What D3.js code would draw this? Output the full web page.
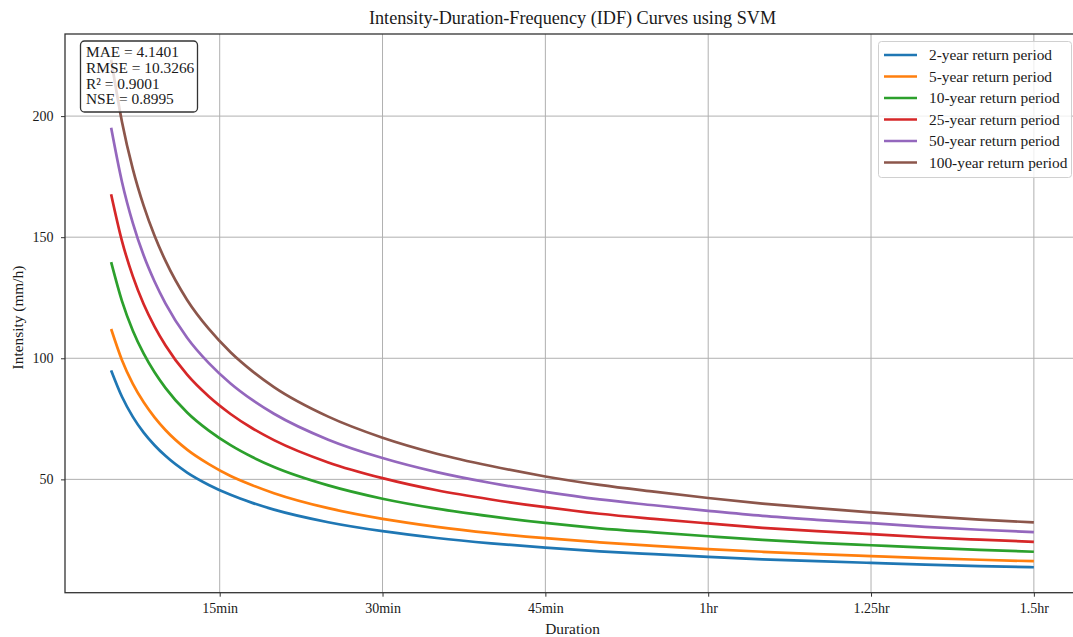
<!DOCTYPE html>
<html>
<head>
<meta charset="utf-8">
<script src="https://cdn.jsdelivr.net/npm/d3@7"></script>
<style>
  body { margin: 0; background: #fff; }
  svg { font-family: 'Liberation Serif', 'Times New Roman', serif; }
</style>
</head>
<body>
<div class="chart"></div>
<script>
// durations in minutes
const durations = [5, 6, 7, 8, 9, 10, 12, 14, 16, 18, 20, 25, 30, 35, 40, 45, 50, 55, 60, 65, 70, 75, 80, 85, 90];

const rp2 = [95.0, 84.1, 75.8, 69.3, 64.1, 59.7, 52.8, 47.7, 43.6, 40.3, 37.5, 32.3, 28.6, 25.8, 23.6, 21.8, 20.3, 19.1, 18.0, 17.0, 16.2, 15.5, 14.8, 14.2, 13.7];
const rp5 = [112.1, 99.2, 89.4, 81.8, 75.6, 70.4, 62.3, 56.3, 51.4, 47.6, 44.3, 38.1, 33.7, 30.4, 27.8, 25.7, 24.0, 22.5, 21.2, 20.1, 19.1, 18.3, 17.5, 16.8, 16.2];
const rp10 = [139.7, 123.6, 111.4, 101.9, 94.2, 87.8, 77.6, 70.1, 64.1, 59.2, 55.1, 47.5, 42.0, 37.9, 34.7, 32.0, 29.8, 28.1, 26.5, 25.0, 23.8, 22.8, 21.8, 20.9, 20.1];
const rp25 = [167.7, 148.4, 133.8, 122.3, 113.1, 105.4, 93.2, 84.2, 77.0, 71.1, 66.2, 57.0, 50.5, 45.5, 41.7, 38.5, 35.8, 33.7, 31.8, 30.0, 28.6, 27.4, 26.1, 25.1, 24.2];
const rp50 = [195.2, 172.8, 155.8, 142.4, 131.7, 122.7, 108.5, 98.0, 89.6, 82.8, 77.1, 66.4, 58.8, 53.0, 48.5, 44.8, 41.7, 39.3, 37.0, 34.9, 33.3, 31.9, 30.4, 29.2, 28.2];
const rp100 = [223.3, 197.6, 178.1, 162.9, 150.6, 140.3, 124.1, 112.1, 102.5, 94.7, 88.1, 75.9, 67.2, 60.6, 55.5, 51.2, 47.7, 44.9, 42.3, 40.0, 38.1, 36.4, 34.8, 33.4, 32.2];

const seriesNames = ['2-year return period', '5-year return period', '10-year return period',
  '25-year return period', '50-year return period', '100-year return period'];
const seriesValues = [rp2, rp5, rp10, rp25, rp50, rp100];
const colors = ['#1f77b4', '#ff7f0e', '#2ca02c', '#d62728', '#9467bd', '#8c564b'];

const xTicks = [15, 30, 45, 60, 75, 90];
const xTickLabels = ['15min', '30min', '45min', '1hr', '1.25hr', '1.5hr'];
const yTicks = [50, 100, 150, 200];

const metrics = ['MAE = 4.1401', 'RMSE = 10.3266', 'R² = 0.9001', 'NSE = 0.8995'];

const w = 1073;
const h = 637;
const plotLeft = 65;
const plotRight = 1080;
const plotTop = 34;
const plotBottom = 592.7;
const textSize = 15.4;
const tickSize = 14;

const svg = d3.select('.chart')
  .append('svg')
  .attr('width', w)
  .attr('height', h);

function label(sel, x, y, txt, size, anchor) {
  return sel.append('text')
    .attr('x', x)
    .attr('y', y)
    .attr('text-anchor', anchor || 'start')
    .attr('font-size', size)
    .attr('fill', '#1a1a1a')
    .text(txt);
}

// x&y scale
const xScale = d3.scaleLinear().domain([0.75, 94.25]).range([plotLeft, plotRight]);
const yScale = d3.scaleLinear().domain([3.2, 233.9]).range([plotBottom, plotTop]);

// grid
svg.append('g')
  .selectAll('line')
  .data(xTicks)
  .enter()
  .append('line')
  .attr('x1', (d) => xScale(d))
  .attr('x2', (d) => xScale(d))
  .attr('y1', plotTop)
  .attr('y2', plotBottom)
  .attr('stroke', '#b0b0b0')
  .attr('stroke-width', 1);

svg.append('g')
  .selectAll('line')
  .data(yTicks)
  .enter()
  .append('line')
  .attr('x1', plotLeft)
  .attr('x2', plotRight)
  .attr('y1', (d) => yScale(d))
  .attr('y2', (d) => yScale(d))
  .attr('stroke', '#b0b0b0')
  .attr('stroke-width', 1);

// curves
const line = d3.line()
  .x((d, i) => xScale(durations[i]))
  .y((d) => yScale(d))
  .curve(d3.curveMonotoneX);

svg.append('g')
  .selectAll('path')
  .data(seriesValues)
  .enter()
  .append('path')
  .attr('d', (d) => line(d))
  .attr('fill', 'none')
  .attr('stroke', (d, i) => colors[i])
  .attr('stroke-width', 2.7);

// spines
svg.append('rect')
  .attr('x', plotLeft)
  .attr('y', plotTop)
  .attr('width', plotRight - plotLeft)
  .attr('height', plotBottom - plotTop)
  .attr('fill', 'none')
  .attr('stroke', '#333')
  .attr('stroke-width', 1.3);

// X-axis
const xAxis = d3.axisBottom(xScale)
  .tickValues(xTicks)
  .tickFormat((d, i) => xTickLabels[i])
  .tickSize(4)
  .tickPadding(6);

svg.append('g')
  .attr('transform', `translate(0, ${plotBottom})`)
  .call(xAxis)
  .call((g) => g.select('.domain').remove())
  .call((g) => g.selectAll('text')
    .attr('font-family', "'Liberation Serif', serif")
    .attr('font-size', tickSize)
    .attr('fill', '#1a1a1a'))
  .call((g) => g.selectAll('line').attr('stroke', '#333'));

// Y-axis
const yAxis = d3.axisLeft(yScale)
  .tickValues(yTicks)
  .tickSize(4)
  .tickPadding(7.5);

svg.append('g')
  .attr('transform', `translate(${plotLeft}, 0)`)
  .call(yAxis)
  .call((g) => g.select('.domain').remove())
  .call((g) => g.selectAll('text')
    .attr('font-family', "'Liberation Serif', serif")
    .attr('font-size', tickSize)
    .attr('fill', '#1a1a1a'))
  .call((g) => g.selectAll('line').attr('stroke', '#333'));

// title & labels
label(svg, (plotLeft + plotRight) / 2, 24, 'Intensity-Duration-Frequency (IDF) Curves using SVM', 18.2, 'middle');
label(svg, (plotLeft + plotRight) / 2, 634, 'Duration', textSize, 'middle');

svg.append('text')
  .attr('transform', 'rotate(-90)')
  .attr('x', -317.5)
  .attr('y', 23)
  .attr('text-anchor', 'middle')
  .attr('font-size', textSize)
  .attr('fill', '#1a1a1a')
  .text('Intensity (mm/h)');

// metrics box
const box = svg.append('g');
box.append('rect')
  .attr('x', 80.5)
  .attr('y', 41)
  .attr('width', 117)
  .attr('height', 71)
  .attr('rx', 4)
  .attr('fill', 'rgba(255,255,255,0.8)')
  .attr('stroke', '#333')
  .attr('stroke-width', 1.3);

metrics.forEach((m, i) => label(box, 86, 57 + i * 15.8, m, textSize));

// legend
const legend = svg.append('g');
legend.append('rect')
  .attr('x', 878.5)
  .attr('y', 41.5)
  .attr('width', 193)
  .attr('height', 136)
  .attr('rx', 3)
  .attr('fill', 'rgba(255,255,255,0.8)')
  .attr('stroke', '#d0d0d0')
  .attr('stroke-width', 1);

seriesNames.forEach((name, i) => {
  const y = 55 + i * 21.5;
  legend.append('line')
    .attr('x1', 884)
    .attr('x2', 917)
    .attr('y1', y)
    .attr('y2', y)
    .attr('stroke', colors[i])
    .attr('stroke-width', 2.7);
  label(legend, 929, y + 5, name, textSize);
});
</script>
</body>
</html>
